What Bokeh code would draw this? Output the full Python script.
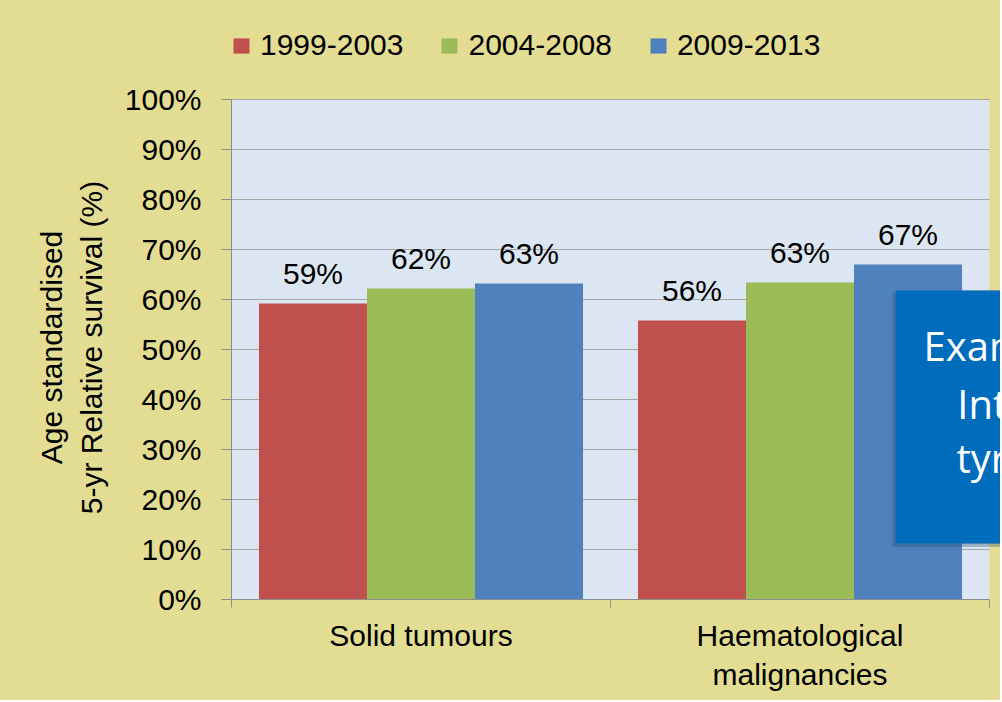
from bokeh.plotting import figure
from bokeh.models import (Range1d, FixedTicker, PrintfTickFormatter, Legend, LegendItem,
                          BoxAnnotation, Label, ColumnDataSource)
from bokeh.embed import file_html
from bokeh.resources import INLINE
from bokeh.core.properties import value

# ---- data ----
categories = ["Solid tumours", "Haematological\nmalignancies"]
periods = ["1999-2003", "2004-2008", "2009-2013"]
survival_1999_2003 = [59.2, 55.8]
survival_2004_2008 = [62.2, 63.4]
survival_2009_2013 = [63.2, 67.0]
colors = ["#C0504D", "#9BBB59", "#4F81BD"]
y_ticks = [0, 10, 20, 30, 40, 50, 60, 70, 80, 90, 100]
y_title = ["Age standardised", "5-yr Relative survival (%)"]
overlay_lines = ["Exam", "Int", "tyr"]

FONT = "Liberation Sans"
BOX_FONT = "Open Sans"
KHAKI = "#E3DD93"
PLOT_BG = "#DCE6F2"
BOX_BLUE = "#006CBC"

N = len(categories)
# frame reaches up to the legend row and right to the page edge;
# the plot area itself is 0..N (categories) x 0..100 %
Y_TOP = 115.8
X_END = N + 11 / 379
p = figure(width=1000, height=700, output_backend="svg", toolbar_location=None,
           x_range=Range1d(0, X_END), y_range=Range1d(0, Y_TOP),
           min_border_left=231, min_border_right=0, min_border_top=20, min_border_bottom=101,
           background_fill_alpha=0, border_fill_color=KHAKI, border_fill_alpha=0,
           outline_line_color=None)
p.styles = {"background": KHAKI}

# light-blue plot area (0..100 %)
p.add_layout(BoxAnnotation(left=0, right=N, bottom=0, top=100,
                           fill_color=PLOT_BG, fill_alpha=1.0, line_color=None, level="image"))

series = [survival_1999_2003, survival_2004_2008, survival_2009_2013]
bar_w = 0.285
items = []
for j, (name, vals, col) in enumerate(zip(periods, series, colors)):
    xs = [i + 0.5 + (j - 1) * bar_w for i in range(N)]
    src = ColumnDataSource(dict(x=xs, top=vals, label=[f"{round(v)}%" for v in vals]))
    r = p.vbar(x="x", top="top", bottom=0, width=bar_w, source=src,
               fill_color=col, line_color=None)
    p.text(x="x", y="top", text="label", source=src, text_align="center",
           text_baseline="alphabetic", y_offset=-30, text_font=value(FONT),
           text_font_size="30px", text_color="black")
    items.append(LegendItem(label=name, renderers=[r]))

legend = Legend(items=items, orientation="horizontal", location=(0, 537),
                label_text_font=FONT, label_text_font_size="30px", label_text_color="black",
                glyph_width=20, glyph_height=19, label_standoff=9, spacing=36,
                padding=0, margin=0, border_line_color=None, background_fill_alpha=0)
p.add_layout(legend)

# y axis (title centred on the 0..100 % part: pad its top end)
pad = "\u00a0" * 9
p.yaxis.bounds = (0, 100)
p.yaxis.ticker = FixedTicker(ticks=y_ticks)
p.yaxis.formatter = PrintfTickFormatter(format="%d%%")
p.yaxis.axis_label = "\n".join(t + pad for t in y_title)
p.yaxis.axis_label_text_font = FONT
p.yaxis.axis_label_text_font_size = "30px"
p.yaxis.axis_label_text_font_style = "normal"
p.yaxis.axis_label_text_color = "black"
p.yaxis.axis_label_standoff = 14
p.yaxis.major_label_text_font = FONT
p.yaxis.major_label_text_font_size = "30px"
p.yaxis.major_label_text_color = "black"
p.yaxis.major_label_standoff = 20
p.yaxis.major_tick_out = 10
p.yaxis.major_tick_in = 0
p.yaxis.minor_tick_line_color = None
p.yaxis.axis_line_color = "#8C8C8C"
p.yaxis.major_tick_line_color = "#8C8C8C"

# x axis
p.xaxis.bounds = (0, N)
p.xaxis.ticker = FixedTicker(ticks=[i + 0.5 for i in range(N)],
                             minor_ticks=list(range(N + 1)))
p.xaxis.major_label_overrides = {i + 0.5: c for i, c in enumerate(categories)}
p.xaxis.major_label_text_font = FONT
p.xaxis.major_label_text_font_size = "30px"
p.xaxis.major_label_text_color = "black"
p.xaxis.major_label_standoff = 11
p.xaxis.major_tick_line_color = None
p.xaxis.major_tick_out = 0
p.xaxis.major_tick_in = 0
p.xaxis.minor_tick_out = 8
p.xaxis.minor_tick_in = 0
p.xaxis.minor_tick_line_color = "#8C8C8C"
p.xaxis.axis_line_color = "#8C8C8C"

p.xgrid.grid_line_color = None
p.ygrid.ticker = FixedTicker(ticks=y_ticks)
p.ygrid.grid_line_color = "#A6A6A6"
p.ygrid.grid_line_width = 1.2

# khaki strip right of the plot area (hides the grid lines there)
p.add_layout(BoxAnnotation(left=N, fill_color=KHAKI, fill_alpha=1.0,
                           line_color=None, level="underlay"))

# overlay call-out box (cut off at the right edge)
shadow = BoxAnnotation(left=1.744, top=61.2, bottom=10.5,
                       fill_color="#2F4F70", fill_alpha=0.35, line_color=None, level="overlay")
box = BoxAnnotation(left=1.752, top=61.8, bottom=11.2,
                    fill_color=BOX_BLUE, fill_alpha=1.0, line_color="#3E6E9E",
                    line_width=1, level="overlay")
p.add_layout(shadow)
p.add_layout(box)
for txt, lx, ly in zip(overlay_lines, [1.826, 1.915, 1.913], [50.8, 39.2, 28.4]):
    p.add_layout(Label(x=lx, y=ly, text=txt, text_color="white", text_font=BOX_FONT,
                       text_font_size="40px", text_baseline="alphabetic",
                       text_align="left", level="overlay"))

open("out.html", "w").write(file_html(p, INLINE))
